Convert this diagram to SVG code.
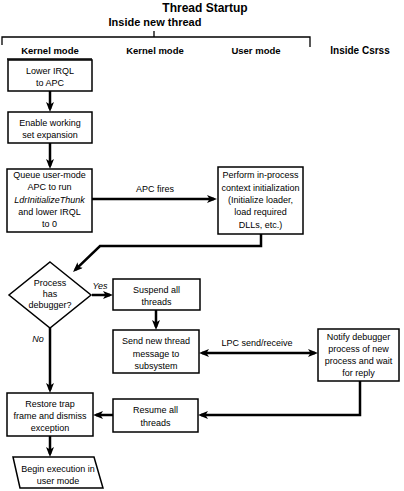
<svg xmlns="http://www.w3.org/2000/svg" width="404" height="491" viewBox="0 0 404 491">
<style>
.bg{fill:#fff}
.box{fill:#fff;stroke:#000;stroke-width:1.5}
.t{font-family:"Liberation Sans",Arial,sans-serif;font-size:9px;fill:#000;text-anchor:middle}
.i{font-style:italic}
.h{font-family:"Liberation Sans",Arial,sans-serif;font-weight:bold;fill:#000;text-anchor:middle}
.thin{fill:none;stroke:#000;stroke-width:1.3}
.c{fill:none;stroke:#000;stroke-width:2.5}
</style>
<defs>
<marker id="ah" viewBox="0 0 10 8" refX="7" refY="4" markerWidth="10" markerHeight="8" markerUnits="userSpaceOnUse" orient="auto-start-reverse">
<path d="M0,0 L10,4 L0,8 L2.5,4 z" fill="#000"/>
</marker>
</defs>
<rect class="bg" x="0" y="0" width="404" height="491"/>
<g id="header">
<text class="h" x="205" y="12" font-size="12">Thread Startup</text>
<text class="h" x="155" y="26" font-size="11">Inside new thread</text>
<path class="thin" d="M154,31 V37"/>
<path class="thin" d="M2,45 V37 H310 V47"/>
<text class="h" x="50" y="54" font-size="9.5">Kernel mode</text>
<text class="h" x="155" y="54" font-size="9.5">Kernel mode</text>
<text class="h" x="256" y="54" font-size="9.5">User mode</text>
<text class="h" x="360" y="54" font-size="10">Inside Csrss</text>
<path class="thin" d="M7,59 H92"/>
</g>
<g id="connectors">
<path class="c" d="M50,91 V109" marker-end="url(#ah)"/>
<path class="c" d="M50,143 V166" marker-end="url(#ah)"/>
<path class="c" d="M92,199 H214" marker-end="url(#ah)"/>
<path class="c" d="M261,234 V246 H100 L75.2,269.9" marker-end="url(#ah)"/>
<path class="c" d="M92,295 H110" marker-end="url(#ah)"/>
<path class="c" d="M156,310 V327" marker-end="url(#ah)"/>
<path class="c" d="M202,353 H315" marker-start="url(#ah)" marker-end="url(#ah)"/>
<path class="c" d="M360,381 V415 H201" marker-end="url(#ah)"/>
<path class="c" d="M113,415 H96" marker-end="url(#ah)"/>
<path class="c" d="M50,328 V390" marker-end="url(#ah)"/>
<path class="c" d="M50,436 V454" marker-end="url(#ah)"/>
<text class="t" x="155" y="192">APC fires</text>
<text class="t i" x="100" y="289">Yes</text>
<text class="t i" x="38" y="342">No</text>
<text class="t" x="257" y="346">LPC send/receive</text>
</g>
<g id="lower-irql">
<rect class="box" x="8" y="60" width="84" height="31"/>
<text class="t" x="50" y="74">Lower IRQL</text>
<text class="t" x="50" y="86">to APC</text>
</g>
<g id="enable-ws">
<rect class="box" x="8" y="112" width="84" height="31"/>
<text class="t" x="50" y="126">Enable working</text>
<text class="t" x="50" y="138">set expansion</text>
</g>
<g id="queue-apc">
<rect class="box" x="7" y="169" width="85" height="63"/>
<text class="t" x="49.5" y="178">Queue user-mode</text>
<text class="t" x="49.5" y="190">APC to run</text>
<text class="t i" x="49.5" y="203">LdrInitializeThunk</text>
<text class="t" x="49.5" y="215">and lower IRQL</text>
<text class="t" x="49.5" y="227">to 0</text>
</g>
<g id="perform-init">
<rect class="box" x="218" y="167" width="85" height="67"/>
<text class="t" x="260.5" y="178">Perform in-process</text>
<text class="t" x="260.5" y="191">context initialization</text>
<text class="t" x="260.5" y="203">(Initialize loader,</text>
<text class="t" x="260.5" y="215">load required</text>
<text class="t" x="260.5" y="228">DLLs, etc.)</text>
</g>
<g id="has-debugger">
<polygon class="box" points="50,262 91,295 50,328 9,295"/>
<text class="t" x="50" y="286">Process</text>
<text class="t" x="50" y="297">has</text>
<text class="t" x="50" y="308">debugger?</text>
</g>
<g id="suspend">
<rect class="box" x="113" y="279" width="87" height="31"/>
<text class="t" x="156.5" y="293">Suspend all</text>
<text class="t" x="156.5" y="305">threads</text>
</g>
<g id="send-msg">
<rect class="box" x="113" y="330" width="86" height="43"/>
<text class="t" x="156" y="344">Send new thread</text>
<text class="t" x="156" y="357">message to</text>
<text class="t" x="156" y="369">subsystem</text>
</g>
<g id="notify">
<rect class="box" x="318" y="329" width="81" height="52"/>
<text class="t" x="358.5" y="340">Notify debugger</text>
<text class="t" x="358.5" y="352">process of new</text>
<text class="t" x="358.5" y="364">process and wait</text>
<text class="t" x="358.5" y="376">for reply</text>
</g>
<g id="resume">
<rect class="box" x="113" y="399" width="85" height="33"/>
<text class="t" x="155.5" y="413">Resume all</text>
<text class="t" x="155.5" y="426">threads</text>
</g>
<g id="restore">
<rect class="box" x="7" y="393" width="86" height="43"/>
<text class="t" x="50" y="407">Restore trap</text>
<text class="t" x="50" y="419">frame and dismiss</text>
<text class="t" x="50" y="431">exception</text>
</g>
<g id="begin-exec">
<polygon class="box" points="13,457 94,457 103,488 20,488"/>
<text class="t" x="58" y="472">Begin execution in</text>
<text class="t" x="58" y="484">user mode</text>
</g>
</svg>
